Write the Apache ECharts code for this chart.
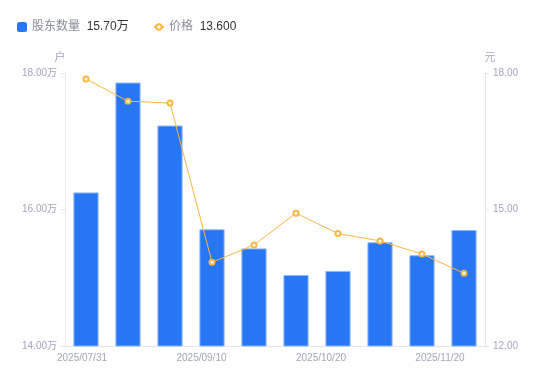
<!DOCTYPE html>
<html>
<head>
<meta charset="utf-8">
<script src="https://cdn.jsdelivr.net/npm/echarts@6/dist/echarts.min.js"></script>
<style>
  html, body { margin: 0; padding: 0; background: #fff; }
  #chart { width: 550px; height: 381px; }
</style>
</head>
<body>
<div id="chart"></div>
<script>
// 股东数量 / 价格 双轴图

const dates = ['2025/07/31', '2025/08/15', '2025/08/29', '2025/09/10', '2025/09/19',
  '2025/09/30', '2025/10/20', '2025/10/31', '2025/11/10', '2025/11/20'];
// 股东数量（万户）
const holders = [16.25, 17.86, 17.23, 15.71, 15.43, 15.04, 15.10, 15.52, 15.33, 15.70];
// 价格（元）
const prices = [17.87, 17.38, 17.34, 13.84, 14.22, 14.92, 14.47, 14.31, 14.02, 13.60];
const leftTicks = [14, 18];
const rightTicks = [12, 18];

const latest = {
  '股东数量': holders[holders.length - 1].toFixed(2) + '万',
  '价格': prices[prices.length - 1].toFixed(3)
};

const labelColor = '#a3a7b7';
const lineColor = '#e6e7eb';
const legendText = {
  rich: {
    n: { color: '#8a8e9c', fontSize: 12 },
    v: { color: '#333', fontSize: 12 }
  }
};
function legendFmt(name) {
  return '{n|' + name + '}  {v|' + latest[name] + '}';
}

// 日期标签稍微往左挪，越往右挪得越多
let xRich = {};
dates.forEach(function (d, i) {
  xRich['p' + i] = { color: labelColor, fontSize: 10, padding: [0, Math.round(8 + 4.4 * i), 0, 0] };
});

let myChart = echarts.init(document.getElementById('chart'));
let option = {
  backgroundColor: '#fff',
  animation: false,
  textStyle: { fontFamily: 'Liberation Sans, Noto Sans CJK SC, sans-serif' },
  legend: [
    {
      left: 12,
      top: 16,
      itemWidth: 10,
      itemHeight: 10,
      data: [{ name: '股东数量', icon: 'roundRect', itemStyle: { borderWidth: 0 } }],
      formatter: legendFmt,
      textStyle: legendText
    },
    {
      left: 148,
      top: 16,
      itemWidth: 10,
      itemHeight: 7,
      data: ['价格'],
      formatter: legendFmt,
      textStyle: legendText
    }
  ],
  grid: { left: 65, right: 65, top: 73, bottom: 35 },
  xAxis: {
    type: 'category',
    data: dates,
    axisLine: { lineStyle: { color: lineColor } },
    axisTick: { show: false },
    axisLabel: {
      color: labelColor,
      fontSize: 10,
      interval: 2,
      margin: 7,
      formatter: function (v, i) { return '{p' + i + '|' + v + '}'; },
      rich: xRich
    }
  },
  yAxis: [
    {
      type: 'value',
      name: '户',
      nameGap: 10,
      nameTextStyle: { color: labelColor, fontSize: 11, padding: [0, 10, 0, 0] },
      min: leftTicks[0],
      max: leftTicks[1],
      interval: 2,
      axisLine: { show: true, lineStyle: { color: lineColor } },
      axisTick: { show: true, length: 4, lineStyle: { color: lineColor } },
      splitLine: { show: false },
      axisLabel: {
        color: labelColor,
        fontSize: 10,
        margin: 8,
        formatter: function (v) { return v.toFixed(2) + '万'; }
      }
    },
    {
      type: 'value',
      name: '元',
      nameGap: 10,
      nameTextStyle: { color: labelColor, fontSize: 11, padding: [0, 0, 0, 10] },
      min: rightTicks[0],
      max: rightTicks[1],
      interval: 3,
      axisLine: { show: true, lineStyle: { color: lineColor } },
      axisTick: { show: true, length: 4, lineStyle: { color: lineColor } },
      splitLine: { show: false },
      axisLabel: {
        color: labelColor,
        fontSize: 10,
        margin: 8,
        formatter: function (v) { return v.toFixed(2); }
      }
    }
  ],
  series: [
    {
      name: '股东数量',
      type: 'bar',
      yAxisIndex: 0,
      barWidth: '60%',
      data: holders,
      itemStyle: {
        color: '#2777f4',
        borderColor: '#8fb6f8',
        borderWidth: 1
      }
    },
    {
      name: '价格',
      type: 'line',
      yAxisIndex: 1,
      data: prices,
      symbol: 'emptyCircle',
      symbolSize: 5,
      lineStyle: { color: '#fdb643', width: 1 },
      itemStyle: { color: '#fdb643', borderWidth: 2 }
    }
  ]
};
myChart.setOption(option);
</script>
</body>
</html>
